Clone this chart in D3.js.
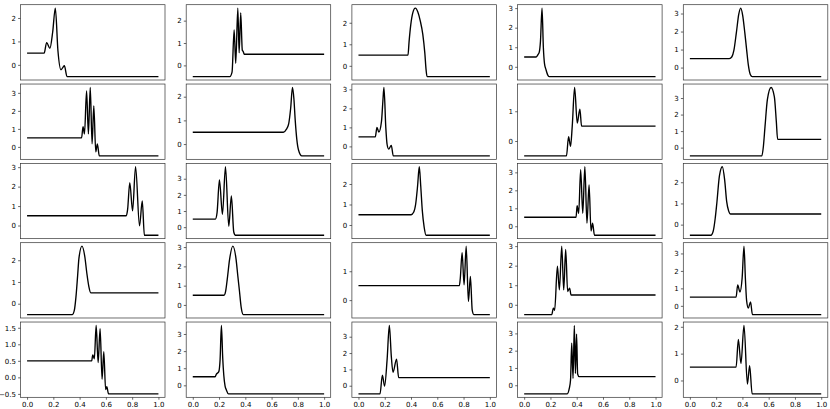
<!DOCTYPE html>
<html>
<head>
<meta charset="utf-8">
<script src="https://cdn.jsdelivr.net/npm/d3@7"></script>
<style>
  body { margin: 0; background: #fff; }
  text { font-family: "DejaVu Sans", sans-serif; }
</style>
</head>
<body>
<div id="chart"></div>
<script>
// Panel curves, [x, y] pairs, row by row
const p11 = [[0,0.5],[0.13,0.5],[0.149,0.95],[0.174,0.71],[0.195,1.4],[0.215,2.42],[0.235,0.6],[0.258,-0.21],[0.284,-0.04],[0.304,-0.5],[1,-0.5]];
const p12 = [[0,-0.5],[0.282,-0.5],[0.299,-0.3],[0.315,1.59],[0.327,0.09],[0.343,2.56],[0.353,0.56],[0.365,2.35],[0.377,0.68],[0.384,0.62],[0.392,0.5],[1,0.5]];
const p13 = [[0,0.5],[0.377,0.5],[0.385,1.1],[0.398,1.9],[0.413,2.45],[0.433,2.68],[0.452,2.5],[0.47,2.1],[0.49,1.45],[0.505,0.6],[0.515,-0.2],[0.522,-0.5],[1,-0.5]];
const p14 = [[0,0.5],[0.09,0.5],[0.105,0.62],[0.115,0.75],[0.124,1.3],[0.136,3.0],[0.146,1.0],[0.155,0.15],[0.165,-0.12],[0.178,-0.4],[0.19,-0.5],[1,-0.5]];
const p15 = [[0,0.5],[0.3,0.5],[0.32,0.6],[0.335,0.95],[0.355,2.0],[0.372,2.95],[0.387,3.3],[0.402,2.9],[0.418,1.95],[0.432,1.0],[0.445,0.15],[0.46,-0.38],[0.475,-0.5],[1,-0.5]];

const p21 = [[0,0.5],[0.415,0.5],[0.426,1.12],[0.437,0.72],[0.453,3.11],[0.467,0.72],[0.481,3.3],[0.495,0.17],[0.508,2.28],[0.523,-0.28],[0.535,0.17],[0.55,-0.5],[1,-0.5]];
const p22 = [[0,0.5],[0.69,0.5],[0.712,0.62],[0.73,0.85],[0.745,1.5],[0.759,2.39],[0.77,1.9],[0.78,1.0],[0.792,0.2],[0.805,-0.25],[0.83,-0.5],[1,-0.5]];
const p23 = [[0,0.5],[0.128,0.5],[0.141,1.0],[0.155,0.75],[0.175,1.3],[0.186,2.4],[0.194,3.1],[0.208,1.0],[0.218,0.1],[0.23,-0.14],[0.25,0.05],[0.265,-0.5],[1,-0.5]];
const p24 = [[0,-0.5],[0.322,-0.5],[0.338,0.15],[0.353,-0.18],[0.366,0.5],[0.384,1.8],[0.404,0.6],[0.424,1.07],[0.437,0.5],[1,0.5]];
const p25 = [[0,-0.5],[0.548,-0.5],[0.56,0.1],[0.572,1.27],[0.59,2.9],[0.618,3.64],[0.643,3.08],[0.658,1.6],[0.668,0.5],[1,0.5]];

const p31 = [[0,0.5],[0.755,0.5],[0.765,0.8],[0.782,2.2],[0.803,0.75],[0.826,3.02],[0.856,-0.02],[0.877,1.26],[0.893,-0.5],[1,-0.5]];
const p32 = [[0,0.5],[0.172,0.5],[0.185,0.9],[0.203,2.92],[0.226,0.8],[0.249,3.74],[0.274,0.06],[0.294,1.93],[0.312,-0.3],[0.325,-0.5],[1,-0.5]];
const p33 = [[0,0.5],[0.4,0.5],[0.42,0.62],[0.435,1.0],[0.45,1.9],[0.463,2.84],[0.474,1.9],[0.486,0.7],[0.5,-0.1],[0.515,-0.5],[1,-0.5]];
const p34 = [[0,0.5],[0.395,0.5],[0.403,1.15],[0.415,0.72],[0.43,3.15],[0.446,0.72],[0.462,3.31],[0.478,0.17],[0.494,2.3],[0.509,-0.26],[0.521,0.17],[0.535,-0.5],[1,-0.5]];
const p35 = [[0,-0.5],[0.16,-0.5],[0.178,-0.3],[0.193,0.3],[0.205,1.0],[0.225,2.3],[0.247,2.73],[0.265,2.1],[0.28,1.1],[0.295,0.65],[0.31,0.5],[1,0.5]];

const p41 = [[0,-0.5],[0.345,-0.5],[0.36,-0.3],[0.372,0.3],[0.385,1.3],[0.395,2.1],[0.418,2.65],[0.44,2.15],[0.455,1.4],[0.47,0.8],[0.485,0.5],[1,0.5]];
const p42 = [[0,0.5],[0.238,0.5],[0.25,0.7],[0.262,1.3],[0.28,2.35],[0.305,3.05],[0.33,2.35],[0.343,1.5],[0.355,0.75],[0.368,-0.1],[0.385,-0.5],[1,-0.5]];
const p43 = [[0,0.5],[0.768,0.5],[0.775,0.75],[0.789,1.64],[0.804,0.53],[0.82,1.87],[0.837,-0.05],[0.852,0.82],[0.866,-0.35],[0.878,-0.5],[1,-0.5]];
const p44 = [[0,-0.5],[0.21,-0.5],[0.222,-0.17],[0.232,-0.28],[0.253,1.98],[0.268,0.76],[0.286,3.0],[0.301,0.76],[0.316,2.83],[0.331,0.68],[0.346,0.85],[0.357,0.5],[1,0.5]];
const p45 = [[0,0.5],[0.352,0.5],[0.364,1.2],[0.381,0.79],[0.398,1.6],[0.412,3.42],[0.423,1.5],[0.432,0.3],[0.445,-0.13],[0.462,0.23],[0.476,-0.5],[1,-0.5]];

const p51 = [[0,0.5],[0.492,0.5],[0.5,0.68],[0.512,0.56],[0.526,1.57],[0.541,0.45],[0.556,1.47],[0.571,-0.06],[0.584,0.78],[0.598,-0.37],[0.607,-0.28],[0.62,-0.5],[1,-0.5]];
const p52 = [[0,0.5],[0.17,0.5],[0.18,0.65],[0.198,0.8],[0.208,1.5],[0.218,3.5],[0.228,1.6],[0.236,0.6],[0.246,-0.05],[0.256,-0.27],[0.272,-0.5],[1,-0.5]];
const p53 = [[0,-0.5],[0.164,-0.5],[0.182,0.65],[0.199,-0.02],[0.218,1.6],[0.235,3.69],[0.25,1.8],[0.263,0.82],[0.29,1.63],[0.306,0.5],[1,0.5]];
const p54 = [[0,-0.5],[0.328,-0.5],[0.343,-0.2],[0.353,0.3],[0.362,2.43],[0.372,0.4],[0.382,3.46],[0.39,0.69],[0.399,2.96],[0.407,0.65],[0.418,0.5],[1,0.5]];
const p55 = [[0,0.5],[0.352,0.5],[0.369,1.53],[0.389,0.63],[0.412,2.05],[0.438,-0.13],[0.455,0.55],[0.474,-0.5],[1,-0.5]];

const panels = [p11, p12, p13, p14, p15, p21, p22, p23, p24, p25,
                p31, p32, p33, p34, p35, p41, p42, p43, p44, p45,
                p51, p52, p53, p54, p55];

// y tick values for each panel, same order
const yTicks = [
  [0,1,2], [0,1,2], [0,1,2], [0,1,2,3], [0,1,2,3],
  [0,1,2,3], [0,1,2], [0,1,2,3], [0,1], [0,1,2,3],
  [0,1,2,3], [0,1,2,3], [0,1,2], [0,1,2,3], [0,1,2],
  [0,1,2], [0,1,2,3], [0,1], [0,1,2,3], [0,1,2,3],
  [-0.5,0,0.5,1,1.5], [0,1,2,3], [0,1,2,3], [0,1,2,3], [0,1,2]
];
const xTicks = [0, 0.2, 0.4, 0.6, 0.8, 1.0];

// layout
const W = 830, H = 409;
const nCols = 5, nRows = 5;
const left0 = 20.5, top0 = 4.7;
const pw = 144.5, ph = 75.3;
const dx = 165.7, dy = 79.33;

const svg = d3.select("#chart")
    .append("svg")
    .attr("width", W)
    .attr("height", H);

const minus = s => s.replace("-", "\u2212");
const fmtInt = d => minus(d3.format("d")(d));
const fmt1 = d => minus(d3.format(".1f")(d));

const line = d3.line().curve(d3.curveMonotoneX);

panels.forEach((pts, i) => {
    const r = Math.floor(i / nCols), c = i % nCols;
    const g = svg.append("g")
        .attr("transform", `translate(${left0 + c * dx},${top0 + r * dy})`);

    const x = d3.scaleLinear().domain([-0.05, 1.05]).range([0, pw]);
    const [lo, hi] = d3.extent(pts, d => d[1]);
    const pad = (hi - lo) * 0.05;
    const y = d3.scaleLinear().domain([lo - pad, hi + pad]).range([ph, 0]);

    const ticks = yTicks[i];
    const isFrac = ticks.some(t => !Number.isInteger(t));

    const yAxis = d3.axisLeft(y)
        .tickValues(ticks)
        .tickFormat(isFrac ? fmt1 : fmtInt)
        .tickSize(2.4)
        .tickPadding(2.2);
    const ya = g.append("g").call(yAxis);
    ya.select(".domain").remove();

    if (r === nRows - 1) {
        const xAxis = d3.axisBottom(x)
            .tickValues(xTicks)
            .tickFormat(d3.format(".1f"))
            .tickSize(2.4)
            .tickPadding(2.2);
        const xa = g.append("g")
            .attr("transform", `translate(0,${ph})`)
            .call(xAxis);
        xa.select(".domain").remove();
        xa.selectAll("text").attr("font-size", 7).attr("fill", "#000");
        xa.selectAll("line").attr("stroke-width", 0.6);
    }
    ya.selectAll("text").attr("font-size", 7).attr("fill", "#000");
    ya.selectAll("line").attr("stroke-width", 0.6);

    g.append("path")
        .datum(pts.map(d => [x(d[0]), y(d[1])]))
        .attr("fill", "none")
        .attr("stroke", "#000")
        .attr("stroke-width", 1.35)
        .attr("stroke-linejoin", "round")
        .attr("d", line);

    g.append("rect")
        .attr("width", pw)
        .attr("height", ph)
        .attr("fill", "none")
        .attr("stroke", "#333")
        .attr("stroke-width", 0.7);
});
</script>
</body>
</html>
